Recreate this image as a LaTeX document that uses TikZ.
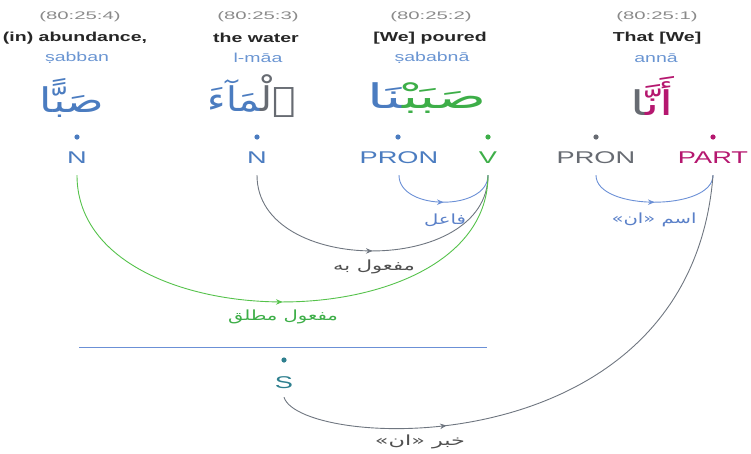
\documentclass[tikz,border=0pt]{standalone}
\usepackage{fontspec}
\setmainfont{Liberation Sans}
\newfontfamily\arabicfont[Script=Arabic]{DejaVu Sans}
\TeXXeTstate=1
\usetikzlibrary{decorations.markings,arrows.meta}
\newcommand{\sx}[2]{\scalebox{#1}[1]{#2}}
\definecolor{refgray}{HTML}{8A8A8A}
\definecolor{trblue}{HTML}{6A95D2}
\definecolor{nblue}{HTML}{4B7CC0}
\definecolor{vgreen}{HTML}{3DAE48}
\definecolor{prgray}{HTML}{676B72}
\definecolor{partpink}{HTML}{B5176F}
\definecolor{arcblue}{HTML}{6B90D6}
\definecolor{arcgray}{HTML}{6F7680}
\definecolor{arcgreen}{HTML}{55C24B}
\definecolor{steal}{HTML}{2E7F8E}
\definecolor{lblblue}{HTML}{5A80C8}
\definecolor{lblgray}{HTML}{505050}
\tikzset{
  reftxt/.style={inner sep=0pt, text=refgray, font=\fontsize{11}{13}\selectfont},
  gloss/.style={inner sep=0pt, text=black!85, font=\bfseries\fontsize{13}{15}\selectfont},
  translit/.style={inner sep=0pt, text=trblue, font=\fontsize{13}{15}\selectfont},
  arword/.style={inner sep=0pt, font=\arabicfont\fontsize{34}{40}\selectfont},
  posdot/.style={circle, inner sep=0pt, minimum size=5.2pt, fill=#1},
  pos/.style={anchor=base, text depth=0pt, inner xsep=0pt, inner ysep=12pt, text=#1, font=\fontsize{17}{19}\selectfont},
  arlabel/.style={inner sep=0pt, text=#1, font=\arabicfont\fontsize{14}{16}\selectfont},
  arc/.style={draw=#1, line width=0.9pt},
  midarrow/.style={postaction={decorate}, decoration={markings, mark=at position #1 with {\arrow{Stealth[length=6.5pt,width=5.5pt]}}}}
}
\begin{document}
\begin{tikzpicture}[x=1pt, y=-1pt]
\useasboundingbox (0,0) rectangle (751,453);
% column 4
\node[reftxt] (r4) at (80,17) {\sx{1.85}{(80:25:4)}};
\node[gloss] (g4) at (75,38) {\sx{1.5}{(in) abundance,}};
\node[translit] (t4) at (77,58) {\sx{1.5}{ṣabban}};
% column 3
\node[reftxt] (r3) at (258,17) {\sx{1.85}{(80:25:3)}};
\node[gloss] (g3) at (256,38) {\sx{1.5}{the water}};
\node[translit] (t3) at (258,58) {\sx{1.5}{l-māa}};
% column 2
\node[reftxt] (r2) at (431,17) {\sx{1.85}{(80:25:2)}};
\node[gloss] (g2) at (430,38) {\sx{1.5}{[We] poured}};
\node[translit] (t2) at (432,58) {\sx{1.5}{ṣababnā}};
% column 1
\node[reftxt] (r1) at (657,17) {\sx{1.85}{(80:25:1)}};
\node[gloss] (g1) at (657,38) {\sx{1.5}{That [We]}};
\node[translit] (t1) at (656,58) {\sx{1.5}{annā}};
% Arabic words
\node[arword] (w4) at (72,98) {\sx{1.3}{\textcolor{nblue}{صَبًّا}}};
\node[arword] (w3) at (252,96) {\sx{1.15}{\textcolor{nblue}{^^^^200dمَآءَ}\textcolor{prgray}{ٱلْ^^^^200d}}};
\node[arword] (w2) at (427,98) {\sx{1.7}{\textcolor{nblue}{^^^^200dنَا}\textcolor{vgreen}{صَبَبْ^^^^200d}}};
\node[arword] (w1) at (652,96) {\sx{1.5}{\textcolor{prgray}{^^^^200dا}\textcolor{partpink}{أَنَّ^^^^200d}}};
% dots
\node[posdot=nblue] (d1) at (77,137) {};
\node[posdot=nblue] (d2) at (257,137) {};
\node[posdot=nblue] (d3) at (398,137) {};
\node[posdot=vgreen] (d4) at (488,137) {};
\node[posdot=prgray] (d5) at (596,137) {};
\node[posdot=partpink] (d6) at (713,137) {};
% POS tags
\node[pos=nblue] (n1) at (77,163) {\sx{1.6}{N}};
\node[pos=nblue] (n2) at (257,163) {\sx{1.6}{N}};
\node[pos=nblue] (p1) at (399,163) {\sx{1.6}{PRON}};
\node[pos=vgreen] (v) at (488,163) {\sx{1.6}{V}};
\node[pos=prgray] (p2) at (596,163) {\sx{1.6}{PRON}};
\node[pos=partpink] (pt) at (713,163) {\sx{1.6}{PART}};
% arcs
\draw[arc=arcblue, midarrow=0.5] (p1.south) .. controls +(0,36) and +(0,36) .. (v.south);
\draw[arc=arcgray, midarrow=0.5] (n2.south) .. controls +(0,101) and +(0,101) .. (v.south);
\draw[arc=arcgreen, midarrow=0.5] (n1.south) .. controls +(0,169) and +(0,169) .. (v.south);
\draw[arc=arcblue, midarrow=0.5] (p2.south) .. controls +(0,36) and +(0,36) .. (pt.south);
% labels
\node[arlabel=lblblue] (l1) at (445,220) {\sx{1.4}{\beginR فاعل\endR}};
\node[arlabel=lblgray] (l2) at (374,267) {\sx{1.5}{\beginR مفعول به\endR}};
\node[arlabel=vgreen] (l3) at (283,317) {\sx{1.4}{\beginR مفعول مطلق\endR}};
\node[arlabel=lblblue] (l4) at (654,220) {\sx{1.4}{\beginR اسم «ان»\endR}};
% sentence bar
\coordinate (bl) at (79,347);
\coordinate (br) at (487,347);
\draw[draw=arcblue, line width=0.9pt] (bl) -- (br);
\node[posdot=steal] (ds) at (284,360) {};
\node[pos=steal, inner ysep=9pt] (s) at (284,388) {\sx{1.6}{S}};
\draw[arc=arcgray, midarrow=0.3] (s.south) .. controls (300,450) and (690,470) .. (pt.south);
\node[arlabel=lblgray] (l5) at (420,442) {\sx{1.6}{\beginR خبر «ان»\endR}};
\end{tikzpicture}
\end{document}
